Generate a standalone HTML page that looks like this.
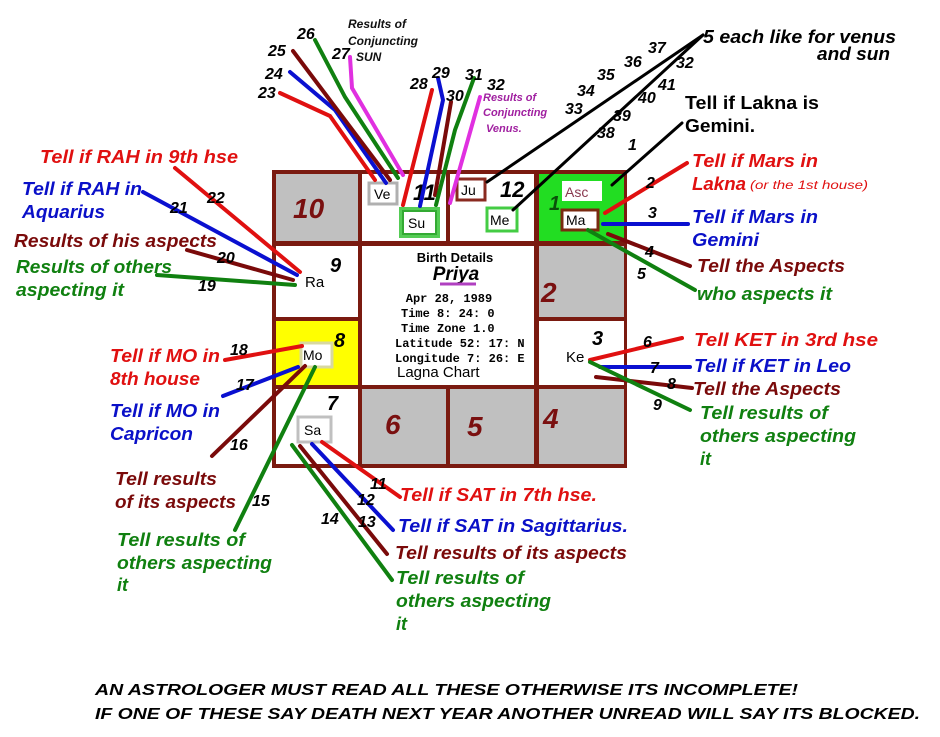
<!DOCTYPE html>
<html><head><meta charset="utf-8"><style>
html,body{margin:0;padding:0;background:#fff;width:940px;height:737px;overflow:hidden}
svg{display:block}
text{font-family:"Liberation Sans",Arial,sans-serif}
.l{font-weight:bold;font-style:italic;font-size:18px}
.n{font-weight:bold;font-style:italic;font-size:16px;fill:#000}
.h{font-weight:bold;font-style:italic;font-size:28px;fill:#7a1010}
.m{font-family:"Liberation Mono",monospace;font-weight:bold;font-size:12px;fill:#000}
</style></head><body>
<svg width="940" height="737" viewBox="0 0 940 737" xmlns="http://www.w3.org/2000/svg">
<rect x="272" y="170" width="355" height="298" fill="#7a1a10"/>
<g>
<rect x="276" y="174" width="82" height="67" fill="#c0c0c0"/>
<rect x="362" y="174" width="84" height="67" fill="#fff"/>
<rect x="450" y="174" width="84" height="67" fill="#fff"/>
<rect x="539" y="174" width="85" height="67" fill="#22dd22"/>
<rect x="276" y="246" width="82" height="71" fill="#fff"/>
<rect x="362" y="246" width="172" height="139" fill="#fff"/>
<rect x="539" y="246" width="85" height="71" fill="#c0c0c0"/>
<rect x="276" y="321" width="82" height="64" fill="#ffff00"/>
<rect x="539" y="321" width="85" height="64" fill="#fff"/>
<rect x="276" y="389" width="82" height="75" fill="#fff"/>
<rect x="362" y="389" width="84" height="75" fill="#c0c0c0"/>
<rect x="450" y="389" width="84" height="75" fill="#c0c0c0"/>
<rect x="539" y="389" width="85" height="75" fill="#c0c0c0"/>
</g>
<text x="293" y="218" class="h">10</text>
<text x="413" y="200" class="h" style="font-size:22px;fill:#000">11</text>
<text x="500" y="197" class="h" style="font-size:22px;fill:#000">12</text>
<text x="549" y="210" class="h" style="font-size:20px;fill:#0a500a">1</text>
<text x="330" y="272" class="h" style="font-size:20px;fill:#000">9</text>
<text x="541" y="302" class="h">2</text>
<text x="334" y="347" class="h" style="font-size:20px;fill:#000">8</text>
<text x="592" y="345" class="h" style="font-size:20px;fill:#000">3</text>
<text x="327" y="410" class="h" style="font-size:20px;fill:#000">7</text>
<text x="385" y="434" class="h">6</text>
<text x="467" y="436" class="h">5</text>
<text x="543" y="428" class="h">4</text>
<rect x="369" y="183" width="28" height="21" fill="#fff" stroke="#b0b0b0" stroke-width="3"/>
<text x="374" y="199" font-size="14" fill="#000">Ve</text>
<rect x="399" y="207" width="41" height="31" fill="#55cc55"/>
<rect x="403" y="211" width="33" height="23" fill="#fff" stroke="#33aa33" stroke-width="2"/>
<text x="408" y="228" font-size="14" fill="#000">Su</text>
<rect x="457" y="179" width="28" height="21" fill="#fff" stroke="#8a2a20" stroke-width="3"/>
<text x="461" y="195" font-size="14" fill="#000">Ju</text>
<rect x="487" y="208" width="30" height="23" fill="#fff" stroke="#44cc44" stroke-width="3"/>
<text x="490" y="225" font-size="14" fill="#000">Me</text>
<rect x="562" y="181" width="40" height="20" fill="#fff"/>
<text x="565" y="197" font-size="14" fill="#8a3a50">Asc</text>
<rect x="562" y="210" width="36" height="20" fill="#fff" stroke="#7a2a10" stroke-width="3"/>
<text x="566" y="225" font-size="14" fill="#000">Ma</text>
<text x="305" y="287" font-size="15" fill="#000">Ra</text>
<rect x="301" y="343" width="31" height="24" fill="#fff" stroke="#d8d8a0" stroke-width="3"/>
<text x="303" y="360" font-size="14" fill="#000">Mo</text>
<text x="566" y="362" font-size="15" fill="#000">Ke</text>
<rect x="298" y="417" width="33" height="25" fill="#fff" stroke="#c0c0c0" stroke-width="3"/>
<text x="304" y="435" font-size="14" fill="#000">Sa</text>
<text x="455" y="262" text-anchor="middle" font-size="13" font-weight="bold" fill="#000">Birth Details</text>
<text x="456" y="280" text-anchor="middle" font-size="19" font-weight="bold" font-style="italic" fill="#000">Priya</text>
<line x1="440" y1="284" x2="476" y2="284" stroke="#b040c0" stroke-width="3"/>
<text x="449" y="302" text-anchor="middle" class="m">Apr 28, 1989</text>
<text x="401" y="317" class="m">Time 8: 24: 0</text>
<text x="401" y="332" class="m">Time Zone 1.0</text>
<text x="395" y="347" class="m">Latitude 52: 17: N</text>
<text x="395" y="362" class="m">Longitude 7: 26: E</text>
<text x="397" y="377" font-size="15" fill="#000">Lagna Chart</text>
<g fill="none" stroke-width="4" stroke-linecap="round">
<polyline points="280,93 330,116 375,180" stroke="#e01010"/>
<polyline points="290,72 335,110 386,183" stroke="#0a10d0"/>
<polyline points="293,51 390,180" stroke="#7a0a0a"/>
<polyline points="315,40 345,97 398,178" stroke="#108010"/>
<polyline points="350,57 352,88 403,175" stroke="#e030e0"/>
<polyline points="432,90 403,205" stroke="#e01010"/>
<polyline points="438,78 443,100 420,206" stroke="#0a10d0"/>
<polyline points="451,102 435,195" stroke="#7a0a0a"/>
<polyline points="474,78 455,130 436,205" stroke="#108010"/>
<polyline points="480,97 450,203" stroke="#e030e0"/>
<g stroke="#000" stroke-width="3">
<line x1="703" y1="35" x2="487" y2="182"/>
<line x1="703" y1="35" x2="513" y2="210"/>
<line x1="682" y1="123" x2="612" y2="185"/>
</g>
<line x1="605" y1="213" x2="687" y2="163" stroke="#e01010"/>
<line x1="603" y1="224" x2="688" y2="224" stroke="#0a10d0"/>
<line x1="608" y1="234" x2="690" y2="266" stroke="#7a0a0a"/>
<line x1="588" y1="230" x2="695" y2="290" stroke="#108010"/>
<line x1="590" y1="360" x2="682" y2="338" stroke="#e01010"/>
<line x1="600" y1="367" x2="690" y2="367" stroke="#0a10d0"/>
<line x1="596" y1="377" x2="692" y2="388" stroke="#7a0a0a"/>
<line x1="590" y1="362" x2="690" y2="410" stroke="#108010"/>
<line x1="175" y1="168" x2="300" y2="272" stroke="#e01010"/>
<line x1="143" y1="192" x2="297" y2="275" stroke="#0a10d0"/>
<line x1="187" y1="250" x2="293" y2="280" stroke="#7a0a0a"/>
<polyline points="157,275 295,285" stroke="#108010"/>
<line x1="225" y1="360" x2="302" y2="346" stroke="#e01010"/>
<line x1="223" y1="396" x2="298" y2="367" stroke="#0a10d0"/>
<line x1="212" y1="456" x2="305" y2="366" stroke="#7a0a0a"/>
<line x1="235" y1="530" x2="315" y2="367" stroke="#108010"/>
<line x1="322" y1="442" x2="400" y2="497" stroke="#e01010"/>
<line x1="312" y1="444" x2="393" y2="530" stroke="#0a10d0"/>
<line x1="300" y1="446" x2="387" y2="554" stroke="#7a0a0a"/>
<line x1="292" y1="445" x2="392" y2="580" stroke="#108010"/>
</g>
<g>
<text x="258" y="98" class="n">23</text><text x="265" y="79" class="n">24</text><text x="268" y="56" class="n">25</text>
<text x="297" y="39" class="n">26</text><text x="332" y="59" class="n">27</text><text x="410" y="89" class="n">28</text>
<text x="432" y="78" class="n">29</text><text x="446" y="101" class="n">30</text><text x="465" y="80" class="n">31</text>
<text x="487" y="90" class="n">32</text>
<text x="565" y="114" class="n">33</text><text x="577" y="96" class="n">34</text><text x="597" y="80" class="n">35</text>
<text x="624" y="67" class="n">36</text><text x="648" y="53" class="n">37</text><text x="676" y="68" class="n">32</text>
<text x="658" y="90" class="n">41</text><text x="638" y="103" class="n">40</text><text x="613" y="121" class="n">39</text>
<text x="597" y="138" class="n">38</text><text x="628" y="150" class="n">1</text>
<text x="646" y="188" class="n">2</text><text x="648" y="218" class="n">3</text><text x="645" y="257" class="n">4</text>
<text x="637" y="279" class="n">5</text><text x="643" y="347" class="n">6</text><text x="650" y="373" class="n">7</text>
<text x="667" y="389" class="n">8</text><text x="653" y="410" class="n">9</text>
<text x="207" y="203" class="n">22</text><text x="170" y="213" class="n">21</text><text x="217" y="263" class="n">20</text>
<text x="198" y="291" class="n">19</text><text x="230" y="355" class="n">18</text><text x="236" y="390" class="n">17</text>
<text x="230" y="450" class="n">16</text><text x="252" y="506" class="n">15</text>
<text x="370" y="489" class="n">11</text><text x="357" y="505" class="n">12</text><text x="358" y="527" class="n">13</text>
<text x="321" y="524" class="n">14</text>
</g>
<text x="348" y="28" font-size="12" font-weight="bold" font-style="italic" fill="#111">Results of</text>
<text x="348" y="45" font-size="12" font-weight="bold" font-style="italic" fill="#111">Conjuncting</text>
<text x="356" y="61" font-size="12" font-weight="bold" font-style="italic" fill="#111">SUN</text>
<text x="483" y="101" font-size="11" font-weight="bold" font-style="italic" fill="#a020a0">Results of</text>
<text x="483" y="116" font-size="11" font-weight="bold" font-style="italic" fill="#a020a0">Conjuncting</text>
<text x="486" y="132" font-size="11" font-weight="bold" font-style="italic" fill="#a020a0">Venus.</text>
<g lengthAdjust="spacingAndGlyphs">
<text x="703" y="43" class="l" fill="#000" textLength="193" lengthAdjust="spacingAndGlyphs">5 each like for venus</text>
<text x="817" y="60" class="l" fill="#000" textLength="73" lengthAdjust="spacingAndGlyphs">and sun</text>
<text x="685" y="109" font-size="18" font-weight="bold" fill="#000" textLength="134" lengthAdjust="spacingAndGlyphs">Tell if Lakna is</text>
<text x="685" y="132" font-size="18" font-weight="bold" fill="#000" textLength="70" lengthAdjust="spacingAndGlyphs">Gemini.</text>

<text x="692" y="167" class="l" fill="#e01010" textLength="126" lengthAdjust="spacingAndGlyphs">Tell if Mars in</text>
<text x="692" y="190" class="l" fill="#e01010" textLength="54" lengthAdjust="spacingAndGlyphs">Lakna</text>
<text x="750" y="189" font-size="12" font-style="italic" fill="#e01010" textLength="118" lengthAdjust="spacingAndGlyphs">(or the 1st house)</text>
<text x="692" y="223" class="l" fill="#0a10c8" textLength="126" lengthAdjust="spacingAndGlyphs">Tell if Mars in</text>
<text x="692" y="246" class="l" fill="#0a10c8" textLength="67" lengthAdjust="spacingAndGlyphs">Gemini</text>
<text x="697" y="272" class="l" fill="#7a0a0a" textLength="148" lengthAdjust="spacingAndGlyphs">Tell the Aspects</text>
<text x="697" y="300" class="l" fill="#108010" textLength="135" lengthAdjust="spacingAndGlyphs">who aspects it</text>
<text x="694" y="346" class="l" fill="#e01010" textLength="184" lengthAdjust="spacingAndGlyphs">Tell KET  in 3rd hse</text>
<text x="694" y="372" class="l" fill="#0a10c8" textLength="157" lengthAdjust="spacingAndGlyphs">Tell if KET in Leo</text>
<text x="693" y="395" class="l" fill="#7a0a0a" textLength="148" lengthAdjust="spacingAndGlyphs">Tell the Aspects</text>
<text x="700" y="419" class="l" fill="#108010" textLength="128" lengthAdjust="spacingAndGlyphs">Tell results of</text>
<text x="700" y="442" class="l" fill="#108010" textLength="156" lengthAdjust="spacingAndGlyphs">others aspecting</text>
<text x="700" y="465" class="l" fill="#108010">it</text>

<text x="40" y="163" class="l" fill="#e01010" textLength="198" lengthAdjust="spacingAndGlyphs">Tell if  RAH in 9th hse</text>
<text x="22" y="195" class="l" fill="#0a10c8" textLength="120" lengthAdjust="spacingAndGlyphs">Tell if RAH in</text>
<text x="22" y="218" class="l" fill="#0a10c8" textLength="83" lengthAdjust="spacingAndGlyphs">Aquarius</text>
<text x="14" y="247" class="l" fill="#7a0a0a" textLength="203" lengthAdjust="spacingAndGlyphs">Results of his aspects</text>
<text x="16" y="273" class="l" fill="#108010" textLength="156" lengthAdjust="spacingAndGlyphs">Results of others</text>
<text x="16" y="296" class="l" fill="#108010" textLength="108" lengthAdjust="spacingAndGlyphs">aspecting it</text>
<text x="110" y="362" class="l" fill="#e01010" textLength="110" lengthAdjust="spacingAndGlyphs">Tell if MO in</text>
<text x="110" y="385" class="l" fill="#e01010" textLength="90" lengthAdjust="spacingAndGlyphs">8th house</text>
<text x="110" y="417" class="l" fill="#0a10c8" textLength="110" lengthAdjust="spacingAndGlyphs">Tell if MO in</text>
<text x="110" y="440" class="l" fill="#0a10c8" textLength="83" lengthAdjust="spacingAndGlyphs">Capricon</text>
<text x="115" y="485" class="l" fill="#7a0a0a" textLength="102" lengthAdjust="spacingAndGlyphs">Tell results</text>
<text x="115" y="508" class="l" fill="#7a0a0a" textLength="121" lengthAdjust="spacingAndGlyphs">of its aspects</text>
<text x="117" y="546" class="l" fill="#108010" textLength="128" lengthAdjust="spacingAndGlyphs">Tell results of</text>
<text x="117" y="569" class="l" fill="#108010" textLength="155" lengthAdjust="spacingAndGlyphs">others aspecting</text>
<text x="117" y="591" class="l" fill="#108010">it</text>

<text x="400" y="501" class="l" fill="#e01010" textLength="197" lengthAdjust="spacingAndGlyphs">Tell if SAT in 7th hse.</text>
<text x="398" y="532" class="l" fill="#0a10c8" textLength="230" lengthAdjust="spacingAndGlyphs">Tell if SAT in Sagittarius.</text>
<text x="395" y="559" class="l" fill="#7a0a0a" textLength="232" lengthAdjust="spacingAndGlyphs">Tell results of its aspects</text>
<text x="396" y="584" class="l" fill="#108010" textLength="128" lengthAdjust="spacingAndGlyphs">Tell results of</text>
<text x="396" y="607" class="l" fill="#108010" textLength="155" lengthAdjust="spacingAndGlyphs">others aspecting</text>
<text x="396" y="630" class="l" fill="#108010">it</text>

<text x="95" y="695" font-size="16" font-weight="bold" font-style="italic" fill="#000" textLength="703" lengthAdjust="spacingAndGlyphs">AN  ASTROLOGER MUST READ ALL THESE OTHERWISE ITS INCOMPLETE!</text>
<text x="95" y="719" font-size="16" font-weight="bold" font-style="italic" fill="#000" textLength="825" lengthAdjust="spacingAndGlyphs">IF ONE OF THESE  SAY DEATH NEXT YEAR ANOTHER UNREAD WILL SAY ITS BLOCKED.</text>
</g>
</svg>
</body></html>
